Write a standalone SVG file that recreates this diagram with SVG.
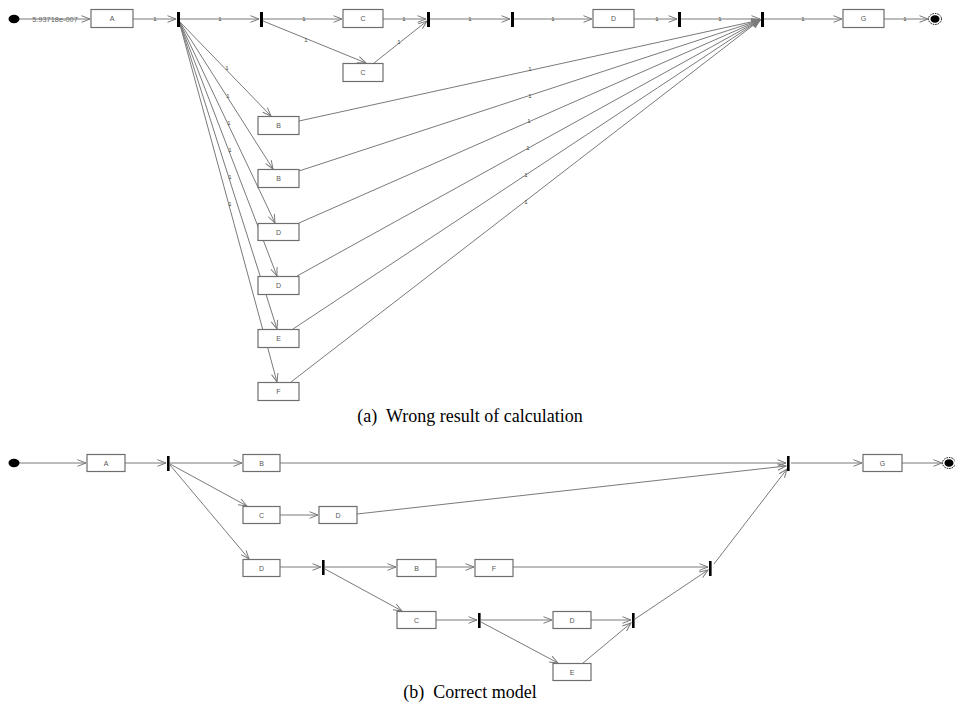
<svg xmlns="http://www.w3.org/2000/svg" width="955" height="708" viewBox="0 0 955 708">
<style>
.e{stroke:#7a7a7a;stroke-width:1;fill:none}
.a{marker-end:url(#arr)}
.box rect{fill:#fff;stroke:#6e6e6e;stroke-width:1.2}
.box text{font-family:"Liberation Sans",Arial,sans-serif;font-size:7px;fill:#555;text-anchor:middle}
.bar{fill:#000}
.w{font-family:"Liberation Sans",Arial,sans-serif;font-size:6px;fill:#444;text-anchor:middle}
.cap{font-family:"Liberation Serif","Times New Roman",serif;font-size:18px;fill:#000;text-anchor:middle;white-space:pre}
</style>
<defs>
<marker id="arr" markerUnits="userSpaceOnUse" markerWidth="12" markerHeight="10" viewBox="-10 -5 12 10" refX="0" refY="0" orient="auto">
<path d="M-8.5,-3.3 L0,0 L-8.5,3.3" fill="none" stroke="#7a7a7a" stroke-width="1"/>
</marker>
</defs>
<rect width="955" height="708" fill="#fff"/>

<!-- ===== (a) ===== -->
<g id="connectors-a">
<line class="e a" x1="19" y1="19" x2="90" y2="19"/>
<line class="e a" x1="133" y1="19" x2="176" y2="19"/>
<line class="e a" x1="180" y1="19" x2="259" y2="19"/>
<line class="e a" x1="263" y1="19" x2="342" y2="19"/>
<line class="e a" x1="263" y1="21" x2="366" y2="63"/>
<line class="e a" x1="383" y1="19" x2="426" y2="19"/>
<line class="e a" x1="374" y1="63" x2="427" y2="21"/>
<line class="e a" x1="430" y1="19" x2="510" y2="19"/>
<line class="e a" x1="514" y1="19" x2="592" y2="19"/>
<line class="e a" x1="634" y1="19" x2="677" y2="19"/>
<line class="e a" x1="681" y1="19" x2="760" y2="19"/>
<line class="e a" x1="764" y1="19" x2="842" y2="19"/>
<line class="e a" x1="884" y1="19" x2="928" y2="19"/>
<line class="e a" x1="179" y1="21" x2="271" y2="116"/>
<line class="e a" x1="179" y1="21" x2="273" y2="169"/>
<line class="e a" x1="179" y1="21" x2="275" y2="223"/>
<line class="e a" x1="179" y1="21" x2="277" y2="276"/>
<line class="e a" x1="179" y1="21" x2="277" y2="329"/>
<line class="e a" x1="179" y1="21" x2="277" y2="382"/>
<line class="e a" x1="299" y1="121" x2="760" y2="20"/>
<line class="e a" x1="299" y1="171" x2="760" y2="20"/>
<line class="e a" x1="299" y1="223" x2="760" y2="20"/>
<line class="e a" x1="297" y1="276" x2="760" y2="20"/>
<line class="e a" x1="293" y1="329" x2="760" y2="20"/>
<line class="e a" x1="291" y1="382" x2="760" y2="20"/>
<text class="w" x="55" y="21.5" style="font-size:7.4px;fill:#666">5.93718e-007</text>
<text class="w" x="155" y="21">1</text>
<text class="w" x="220" y="21">1</text>
<text class="w" x="304" y="21">1</text>
<text class="w" x="306" y="42">1</text>
<text class="w" x="404" y="21">1</text>
<text class="w" x="399" y="44">1</text>
<text class="w" x="470" y="21">1</text>
<text class="w" x="553" y="21">1</text>
<text class="w" x="657" y="21">1</text>
<text class="w" x="720" y="21">1</text>
<text class="w" x="803" y="21">1</text>
<text class="w" x="905" y="21">1</text>
<text class="w" x="227" y="70">1</text>
<text class="w" x="228" y="98">1</text>
<text class="w" x="229" y="125">1</text>
<text class="w" x="230" y="152">1</text>
<text class="w" x="230" y="179">1</text>
<text class="w" x="230" y="206">1</text>
<text class="w" x="530" y="71">1</text>
<text class="w" x="530" y="98">1</text>
<text class="w" x="529" y="123">1</text>
<text class="w" x="528" y="150">1</text>
<text class="w" x="526" y="177">1</text>
<text class="w" x="526" y="204">1</text>
</g>

<g id="a-start"><ellipse cx="14" cy="19" rx="5.5" ry="4.2" fill="#000"/></g>
<g id="a-A" class="box"><rect x="91" y="9.5" width="42" height="18"/><text x="112" y="21">A</text></g>
<g id="a-bar1"><rect class="bar" x="177" y="12" width="3" height="15"/></g>
<g id="a-bar2"><rect class="bar" x="260" y="12" width="3" height="15"/></g>
<g id="a-C1" class="box"><rect x="343" y="9.5" width="40" height="18"/><text x="363" y="21">C</text></g>
<g id="a-C2" class="box"><rect x="343" y="63.5" width="40" height="18"/><text x="363" y="75">C</text></g>
<g id="a-bar3"><rect class="bar" x="427" y="12" width="3" height="15"/></g>
<g id="a-bar4"><rect class="bar" x="511" y="12" width="3" height="15"/></g>
<g id="a-D" class="box"><rect x="593" y="9.5" width="41" height="18"/><text x="613.5" y="21">D</text></g>
<g id="a-bar5"><rect class="bar" x="678" y="12" width="3" height="15"/></g>
<g id="a-bar6"><rect class="bar" x="761" y="12" width="3" height="15"/></g>
<g id="a-G" class="box"><rect x="843" y="9.5" width="41" height="18"/><text x="863.5" y="21">G</text></g>
<g id="a-end"><ellipse cx="935" cy="19" rx="6.5" ry="5.5" fill="#fff" stroke="#000" stroke-width="1" stroke-dasharray="1.5 1"/><ellipse cx="935" cy="19" rx="4.5" ry="3.8" fill="#000"/></g>
<g id="a-B1" class="box"><rect x="258" y="116.5" width="41" height="18"/><text x="278.5" y="128">B</text></g>
<g id="a-B2" class="box"><rect x="258" y="169.5" width="41" height="18"/><text x="278.5" y="181">B</text></g>
<g id="a-D1" class="box"><rect x="258" y="223.5" width="41" height="17"/><text x="278.5" y="234.5">D</text></g>
<g id="a-D2" class="box"><rect x="258" y="276.5" width="41" height="18"/><text x="278.5" y="288">D</text></g>
<g id="a-E" class="box"><rect x="258" y="329.5" width="41" height="18"/><text x="278.5" y="341">E</text></g>
<g id="a-F" class="box"><rect x="258" y="382.5" width="41" height="18"/><text x="278.5" y="394">F</text></g>

<text class="cap" x="470" y="422">(a)  Wrong result of calculation</text>

<!-- ===== (b) ===== -->
<g id="connectors-b">
<line class="e a" x1="19" y1="463" x2="86" y2="463"/>
<line class="e a" x1="125" y1="463" x2="166" y2="463"/>
<line class="e a" x1="170" y1="463" x2="242" y2="463"/>
<line class="e a" x1="280" y1="463" x2="786" y2="463"/>
<line class="e a" x1="170" y1="464" x2="247" y2="506"/>
<line class="e a" x1="170" y1="465" x2="249" y2="559"/>
<line class="e a" x1="280" y1="515" x2="318" y2="515"/>
<line class="e a" x1="357" y1="514" x2="786" y2="466"/>
<line class="e a" x1="791" y1="463" x2="862" y2="463"/>
<line class="e a" x1="902" y1="463" x2="942" y2="463"/>
<line class="e a" x1="280" y1="567" x2="321" y2="567"/>
<line class="e a" x1="325" y1="567" x2="396" y2="567"/>
<line class="e a" x1="436" y1="567" x2="474" y2="567"/>
<line class="e a" x1="513" y1="567" x2="708" y2="567"/>
<line class="e a" x1="325" y1="569" x2="402" y2="611"/>
<line class="e a" x1="436" y1="620" x2="477" y2="620"/>
<line class="e a" x1="481" y1="620" x2="552" y2="620"/>
<line class="e a" x1="481" y1="622" x2="558" y2="663"/>
<line class="e a" x1="591" y1="620" x2="631" y2="620"/>
<line class="e a" x1="583" y1="663" x2="631" y2="623"/>
<line class="e a" x1="635" y1="619" x2="708" y2="570"/>
<line class="e a" x1="714" y1="564" x2="787" y2="469"/>
</g>

<g id="b-start"><ellipse cx="14" cy="463" rx="5.5" ry="4.2" fill="#000"/></g>
<g id="b-A" class="box"><rect x="87" y="454.5" width="38" height="17"/><text x="106" y="465.5">A</text></g>
<g id="b-bar1"><rect class="bar" x="167" y="456" width="2.6" height="15"/></g>
<g id="b-B1" class="box"><rect x="243" y="454.5" width="37" height="17"/><text x="261.5" y="465.5">B</text></g>
<g id="b-C1" class="box"><rect x="243" y="506.5" width="37" height="17"/><text x="261.5" y="517.5">C</text></g>
<g id="b-D1" class="box"><rect x="319" y="506.5" width="38" height="17"/><text x="338" y="517.5">D</text></g>
<g id="b-D2" class="box"><rect x="243" y="559.5" width="37" height="17"/><text x="261.5" y="570.5">D</text></g>
<g id="b-bar2"><rect class="bar" x="322" y="560" width="2.6" height="15"/></g>
<g id="b-B2" class="box"><rect x="397" y="559.5" width="39" height="17"/><text x="416.5" y="570.5">B</text></g>
<g id="b-F" class="box"><rect x="475" y="559.5" width="38" height="17"/><text x="494" y="570.5">F</text></g>
<g id="b-C2" class="box"><rect x="397" y="611.5" width="39" height="17"/><text x="416.5" y="622.5">C</text></g>
<g id="b-bar3"><rect class="bar" x="478" y="613" width="2.6" height="15"/></g>
<g id="b-D3" class="box"><rect x="553" y="611.5" width="38" height="17"/><text x="572" y="622.5">D</text></g>
<g id="b-E" class="box"><rect x="553" y="663.5" width="38" height="17"/><text x="572" y="674.5">E</text></g>
<g id="b-bar4"><rect class="bar" x="632" y="613" width="2.6" height="15"/></g>
<g id="b-bar5"><rect class="bar" x="709" y="561" width="2.6" height="15"/></g>
<g id="b-bar6"><rect class="bar" x="787" y="456" width="2.6" height="15"/></g>
<g id="b-G" class="box"><rect x="863" y="454.5" width="39" height="17"/><text x="882.5" y="465.5">G</text></g>
<g id="b-end"><ellipse cx="949" cy="463" rx="6.5" ry="5.5" fill="#fff" stroke="#000" stroke-width="1" stroke-dasharray="1.5 1"/><ellipse cx="949" cy="463" rx="4.5" ry="3.8" fill="#000"/></g>

<text class="cap" x="470" y="698">(b)  Correct model</text>
</svg>
